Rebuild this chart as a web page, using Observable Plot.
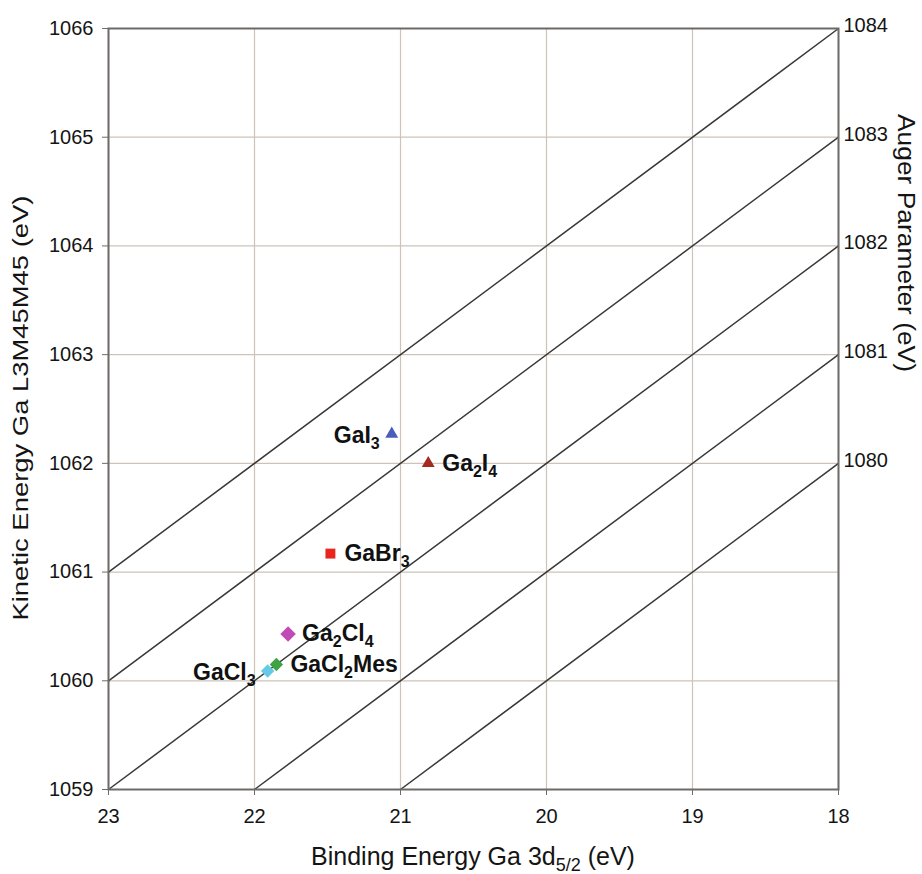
<!DOCTYPE html>
<html><head><meta charset="utf-8">
<script src="https://cdn.jsdelivr.net/npm/d3@7"></script>
<script src="https://cdn.jsdelivr.net/npm/@observablehq/plot@0.6"></script>
<style>
html,body{margin:0;padding:0;background:#fff;}
#chart{width:922px;height:874px;overflow:hidden;}
</style></head><body><div id="chart"></div>
<script>
// ---- data ----
const compounds = ["GaI3", "Ga2I4", "GaBr3", "Ga2Cl4", "GaCl3", "GaCl2Mes"];
const bindingEnergy = [21.06, 20.81, 21.48, 21.77, 21.91, 21.85];
const kineticEnergy = [1062.27, 1062.00, 1061.17, 1060.43, 1060.09, 1060.15];
const augerParameters = [1080, 1081, 1082, 1083, 1084];
const xTicks = [23, 22, 21, 20, 19, 18];
const yTicks = [1059, 1060, 1061, 1062, 1063, 1064, 1065, 1066];

const xTitle = ["Binding Energy Ga 3d", "5/2", " (eV)"];
const yTitle = "Kinetic Energy Ga L3M45M45 (eV)";
const y2Title = "Auger Parameter (eV)";

// ---- styling ----
const symbolRange = ["triangle", "triangle", "square", "diamond2", "diamond2", "diamond2"];
const colorRange = ["#4b5cbc", "#a32a1e", "#e8261d", "#c04ab6", "#66c9e6", "#3ea443"];
const sizeOf = {GaI3: 4.8, Ga2I4: 4.8, GaBr3: 5.6, Ga2Cl4: 7, GaCl3: 6, GaCl2Mes: 6};
const labelLeft = new Set(["GaI3", "GaCl3"]);

const xMin = d3.min(xTicks), xMax = d3.max(xTicks);
const yMin = d3.min(yTicks), yMax = d3.max(yTicks);

const points = compounds.map((name, i) => ({name, be: bindingEnergy[i], ke: kineticEnergy[i]}));
// each Auger-parameter line: BE + KE = A, clipped to the plot domain
const lines = augerParameters.map(a => {
  const x1 = Math.max(xMin, a - yMax), x2 = Math.min(xMax, a - yMin);
  return {a, x1, y1: a - x1, x2, y2: a - x2};
});

const font = "'Liberation Sans', Arial, Helvetica, sans-serif";

const plot = Plot.plot({
  width: 922, height: 874,
  marginLeft: 108, marginRight: 84, marginTop: 28, marginBottom: 85,
  style: {fontFamily: font, background: "#fff", color: "#141414", overflow: "visible"},
  x: {domain: [xMax, xMin]},
  y: {domain: [yMin, yMax]},
  r: {type: "identity"},
  symbol: {domain: compounds, range: symbolRange},
  color: {domain: compounds, range: colorRange},
  marks: [
    Plot.gridX(xTicks, {stroke: "#cdc3b9", strokeOpacity: 1, strokeWidth: 1.2}),
    Plot.gridY(yTicks, {stroke: "#cdc3b9", strokeOpacity: 1, strokeWidth: 1.2}),
    Plot.link(lines, {x1: "x1", y1: "y1", x2: "x2", y2: "y2", stroke: "#383838", strokeWidth: 1.5}),
    Plot.frame({stroke: "#6e6a68", strokeWidth: 2}),
    Plot.axisX(xTicks, {tickSize: 6, tickPadding: 13, fontSize: 20, label: null, stroke: "#6e6a68", tickFormat: d => String(d)}),
    Plot.axisY(yTicks, {tickSize: 6, tickPadding: 9, fontSize: 20, label: null, stroke: "#6e6a68", tickFormat: d => String(d)}),
    Plot.text(augerParameters, {x: xMin, y: d => d - xMin, text: d => String(d), textAnchor: "start", dx: 5, dy: -3, fontSize: 20, fill: "#141414"}),
    Plot.dot(points, {x: "be", y: "ke", symbol: "name", fill: "name", r: d => sizeOf[d.name], stroke: "none"}),
    Plot.text(points.filter(d => !labelLeft.has(d.name)), {x: "be", y: "ke", text: "name", textAnchor: "start", dx: 14, fontSize: 23, fontWeight: "bold", fill: "#111"}),
    Plot.text(points.filter(d => labelLeft.has(d.name)), {x: "be", y: "ke", text: "name", textAnchor: "end", dx: -12, dy: 2, fontSize: 23, fontWeight: "bold", fill: "#111"})
  ]
});

// subscripts in compound formulas
const compoundSet = new Set(compounds);
d3.select(plot).selectAll("text").each(function() {
  const s = this.textContent;
  if (!compoundSet.has(s)) return;
  const t = d3.select(this);
  t.text(null);
  const parts = s.split(/(\d+)/).filter(p => p.length);
  let prevSub = false;
  parts.forEach(p => {
    const isSub = /^\d+$/.test(p);
    const ts = t.append("tspan").text(p);
    if (isSub) { ts.attr("font-size", 16).attr("dy", 6); prevSub = true; }
    else if (prevSub) { ts.attr("dy", -6); prevSub = false; }
  });
});

const svg = d3.select(plot);
const xs = plot.scale("x");
const cx = (xs.range[0] + xs.range[1]) / 2;

// x axis title
const xt = svg.append("text").attr("x", cx).attr("y", 865).attr("text-anchor", "middle")
  .attr("font-size", 25).attr("fill", "#141414").attr("font-family", font);
xt.append("tspan").text(xTitle[0]);
xt.append("tspan").text(xTitle[1]).attr("font-size", 18).attr("dy", 6);
xt.append("tspan").text(xTitle[2]).attr("dy", -6);

// left y title
svg.append("text").attr("transform", "translate(28,408) rotate(-90)").attr("text-anchor", "middle")
  .attr("font-size", 22).attr("fill", "#141414").attr("font-family", font)
  .attr("textLength", 425).attr("lengthAdjust", "spacingAndGlyphs").text(yTitle);

// right y title (Auger parameter)
svg.append("text").attr("transform", "translate(898,243) rotate(90)").attr("text-anchor", "middle")
  .attr("font-size", 23).attr("fill", "#141414").attr("font-family", font)
  .attr("textLength", 258).attr("lengthAdjust", "spacingAndGlyphs").text(y2Title);

document.getElementById("chart").appendChild(plot);
</script>
</body></html>
